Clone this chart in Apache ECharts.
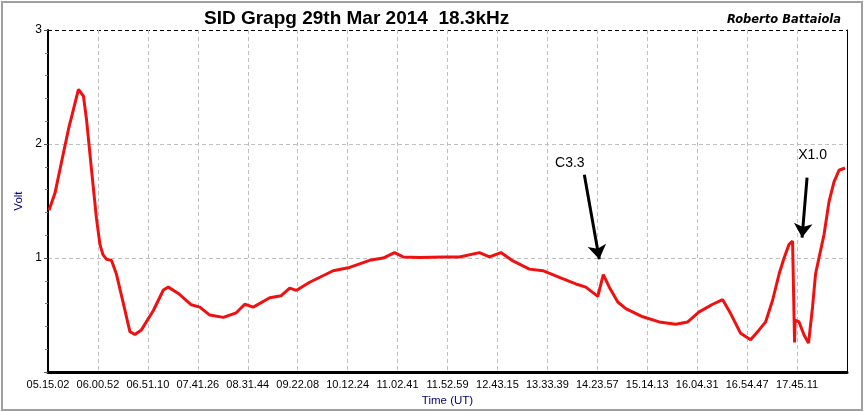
<!DOCTYPE html>
<html>
<head>
<meta charset="utf-8">
<script src="https://cdn.jsdelivr.net/npm/echarts@6/dist/echarts.min.js"></script>
<style>
html,body{margin:0;padding:0;background:#fff;}
#chart{width:865px;height:412px;}
</style>
</head>
<body>
<div id="chart"></div>
<script>
// Tick labels (x axis positions 0..15 in tick units)
const tickLabels = ['05.15.02','06.00.52','06.51.10','07.41.26','08.31.44','09.22.08','10.12.24','11.02.41','11.52.59','12.43.15','13.33.39','14.23.57','15.14.13','16.04.31','16.54.47','17.45.11'];
// Sample positions (in tick units) and signal level (Volt)
const xPos = [0.02,0.14,0.27,0.41,0.61,0.71,0.77,0.87,0.97,1.04,1.10,1.17,1.27,1.37,1.51,1.64,1.74,1.87,2.11,2.31,2.41,2.61,2.87,3.04,3.24,3.51,3.77,3.94,4.11,4.44,4.67,4.84,4.97,5.24,5.71,6.04,6.44,6.71,6.94,7.11,7.44,7.91,8.24,8.64,8.84,9.07,9.31,9.64,9.91,10.24,10.57,10.77,11.01,11.12,11.24,11.41,11.57,11.91,12.24,12.57,12.81,13.04,13.31,13.51,13.67,13.87,14.07,14.24,14.37,14.51,14.64,14.74,14.84,14.91,14.95,14.96,15.04,15.14,15.23,15.31,15.37,15.44,15.54,15.64,15.74,15.84,15.96];
const volt = [1.42,1.57,1.84,2.13,2.48,2.42,2.22,1.78,1.35,1.12,1.03,0.99,0.98,0.86,0.60,0.355,0.33,0.37,0.54,0.72,0.745,0.69,0.59,0.57,0.50,0.48,0.52,0.595,0.57,0.652,0.67,0.736,0.716,0.788,0.889,0.918,0.98,1.00,1.048,1.01,1.004,1.01,1.01,1.048,1.01,1.048,0.975,0.903,0.889,0.831,0.773,0.745,0.664,0.854,0.745,0.615,0.557,0.485,0.44,0.42,0.44,0.528,0.595,0.635,0.513,0.34,0.283,0.37,0.44,0.63,0.86,1.00,1.12,1.15,0.26,0.456,0.44,0.326,0.254,0.571,0.86,1.004,1.206,1.495,1.668,1.77,1.79];
// Flare annotations: labels, label positions, arrows (tail -> head)
const flareLabels = ['C3.3','X1.0'];
const flareText = [[10.45,1.83],[15.31,1.905]];
const flareArrows = [[[10.74,1.73],[11.04,0.99]],[[15.2,1.706],[15.1,1.18]]];

const seriesData = xPos.map((x,i)=>[x, volt[i]]);
const FONT = 'Liberation Sans, Arial, sans-serif';

const chart = echarts.init(document.getElementById('chart'), null, {renderer:'canvas'});
chart.setOption({
  animation:false,
  backgroundColor:'#fff',
  title:[
    {text:'SID Grapg 29th Mar 2014  18.3kHz', left:199, top:4,
     textStyle:{fontFamily:FONT, fontSize:19, fontWeight:'bold', color:'#000'}},
    {text:'Roberto Battaiola', right:19, top:9,
     textStyle:{fontFamily:'DejaVu Sans, sans-serif', fontSize:11.5, fontStyle:'italic', fontWeight:'bold', color:'#000'}}
  ],
  graphic:[{type:'rect', shape:{x:2,y:2,width:860,height:408}, style:{fill:null, stroke:'#a0a0a0', lineWidth:2}, silent:true}],
  grid:{left:48, right:18, top:30, bottom:36},
  xAxis:{
    type:'value', min:0, max:16, interval:1,
    name:'Time (UT)', nameLocation:'middle', nameGap:20,
    nameTextStyle:{fontFamily:FONT, fontSize:11.5, color:'#000080'},
    axisLine:{show:true, onZero:false, lineStyle:{color:'#000', width:3}},
    axisTick:{show:false},
    axisLabel:{fontFamily:FONT, fontSize:11, color:'#000', margin:7,
      formatter:(v)=> tickLabels[Math.round(v)] || ''},
    splitLine:{show:true, lineStyle:{color:'#c0c0c0', type:[4,3], width:1}}
  },
  yAxis:[
    {type:'value', min:0, max:3, interval:1,
     name:'Volt', nameLocation:'middle', nameGap:16,
     nameTextStyle:{fontFamily:FONT, fontSize:11.5, color:'#000080'},
     axisLine:{show:true, lineStyle:{color:'#000', width:2}},
     axisTick:{show:true, length:4, lineStyle:{color:'#555'}},
     minorTick:{show:true, splitNumber:5, length:3, lineStyle:{color:'#777'}},
     axisLabel:{fontFamily:FONT, fontSize:12, color:'#000', margin:6,
       formatter:(v)=> v===0 ? '' : String(v)},
     splitLine:{show:true, lineStyle:{color:['#000','#c0c0c0','#c0c0c0','#000'], type:[4,3], width:1}}
    },
    {type:'value', min:0, max:3, position:'right',
     axisLine:{show:true, lineStyle:{color:'#000', width:1}},
     axisTick:{show:false}, axisLabel:{show:false}, splitLine:{show:false}}
  ],
  series:[{
    type:'line', data:seriesData, showSymbol:false, smooth:false,
    lineStyle:{color:'#f01010', width:3},
    markLine:{
      silent:true, symbol:['none','arrow'], symbolSize:14,
      label:{show:false},
      lineStyle:{color:'#000', width:3, type:'solid'},
      data: flareArrows.map(a=>[{coord:a[0], symbol:'none'},{coord:a[1], symbol:'arrow', symbolSize:14}])
    },
    markPoint:{
      silent:true, symbol:'circle', symbolSize:0,
      label:{show:true, position:'inside', color:'#000', fontFamily:FONT, fontSize:14,
        formatter:(p)=>p.name},
      data: flareLabels.map((t,i)=>({name:t, coord:flareText[i], value:0}))
    }
  }]
});
</script>
</body>
</html>
